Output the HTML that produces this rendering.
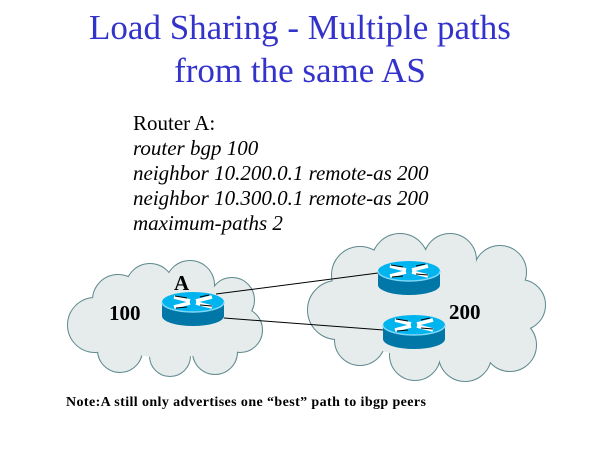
<!DOCTYPE html>
<html><head><style>
body{margin:0;background:#fff;width:600px;height:450px;overflow:hidden}
</style></head><body>
<svg width="600" height="450" xmlns="http://www.w3.org/2000/svg" style="position:absolute;left:0;top:0">
<defs>
<g id="r">
<path d="M0,10 L0,24 A31,10 0 0 0 62,24 L62,10 Z" fill="#0077a6"/>
<ellipse cx="31" cy="10" rx="31" ry="10" fill="#00b4f0"/>
<path d="M0,10 A31,10 0 0 0 62,10" fill="none" stroke="#7fd8f8" stroke-width="1.5"/>
<path d="M12,5 L28,9 M34,11 L50,15 M50,5 L34,9 M28,11 L12,15" stroke="#fff" stroke-width="3.5"/>
<path d="M13,4 L25,6 M38,13 L50,14 M47,3 L38,5 M25,15 L14,16" stroke="#000" stroke-width="1"/>
</g>
</defs>
<text x="300" y="39" font-family="Liberation Serif" font-size="35" fill="#3333cc" text-anchor="middle">Load Sharing - Multiple paths</text>
<text x="300" y="82" font-family="Liberation Serif" font-size="35" fill="#3333cc" text-anchor="middle">from the same AS</text>
<g font-family="Liberation Serif" font-size="21">
<text x="133" y="130">Router A:</text>
<g font-style="italic">
<text x="133" y="155">router bgp 100</text>
<text x="133" y="180">neighbor 10.200.0.1 remote-as 200</text>
<text x="133" y="205">neighbor 10.300.0.1 remote-as 200</text>
<text x="133" y="230">maximum-paths 2</text>
</g></g>
<!-- left cloud -->
<g stroke="#5f8a8f" stroke-width="2" fill="#e6ecec">
<circle cx="95" cy="325" r="27"/><circle cx="118" cy="300" r="25"/><circle cx="150" cy="288" r="24"/><circle cx="190" cy="285" r="24"/><circle cx="232" cy="300" r="22"/><circle cx="240" cy="330" r="22"/><circle cx="215" cy="352" r="22"/><circle cx="170" cy="356" r="20"/><circle cx="120" cy="350" r="22"/><circle cx="168" cy="320" r="40"/>
</g>
<g fill="#e6ecec">
<circle cx="95" cy="325" r="27"/><circle cx="118" cy="300" r="25"/><circle cx="150" cy="288" r="24"/><circle cx="190" cy="285" r="24"/><circle cx="232" cy="300" r="22"/><circle cx="240" cy="330" r="22"/><circle cx="215" cy="352" r="22"/><circle cx="170" cy="356" r="20"/><circle cx="120" cy="350" r="22"/><circle cx="168" cy="320" r="40"/>
<ellipse cx="168" cy="320" rx="75" ry="38"/>
</g>
<!-- right cloud -->
<g stroke="#5f8a8f" stroke-width="2" fill="#e6ecec">
<circle cx="337" cy="310" r="29"/><circle cx="360" cy="275" r="28"/><circle cx="400" cy="262" r="28"/><circle cx="450" cy="260" r="26"/><circle cx="500" cy="272" r="26"/><circle cx="520" cy="305" r="25"/><circle cx="510" cy="345" r="26"/><circle cx="465" cy="355" r="26"/><circle cx="415" cy="355" r="25"/><circle cx="360" cy="340" r="25"/><circle cx="430" cy="310" r="50"/>
</g>
<g fill="#e6ecec">
<circle cx="337" cy="310" r="29"/><circle cx="360" cy="275" r="28"/><circle cx="400" cy="262" r="28"/><circle cx="450" cy="260" r="26"/><circle cx="500" cy="272" r="26"/><circle cx="520" cy="305" r="25"/><circle cx="510" cy="345" r="26"/><circle cx="465" cy="355" r="26"/><circle cx="415" cy="355" r="25"/><circle cx="360" cy="340" r="25"/><circle cx="430" cy="310" r="50"/>
<ellipse cx="430" cy="308" rx="93" ry="50"/>
</g>
<line x1="216" y1="294" x2="378" y2="273" stroke="#000" stroke-width="1"/>
<line x1="224" y1="318" x2="384" y2="330" stroke="#000" stroke-width="1"/>
<use href="#r" x="162" y="292"/>
<use href="#r" x="378" y="261"/>
<use href="#r" x="383" y="315"/>
<g font-family="Liberation Serif" font-weight="bold" font-size="21">
<text x="174" y="290">A</text>
<text x="109" y="320">100</text>
<text x="449" y="319">200</text>
</g>
<text x="66" y="406" font-family="Liberation Serif" font-weight="bold" font-size="14" letter-spacing="0.4">Note:A  still only advertises one “best” path to ibgp peers</text>
</svg>
</body></html>
